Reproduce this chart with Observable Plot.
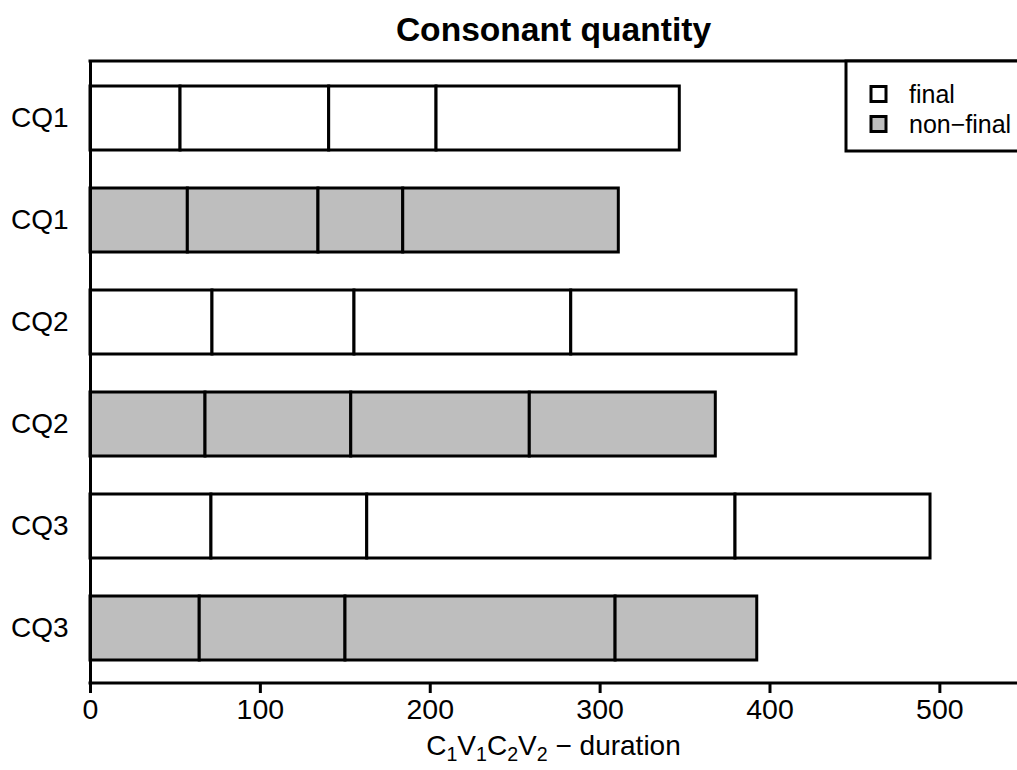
<!DOCTYPE html>
<html>
<head>
<meta charset="utf-8">
<script src="https://cdn.jsdelivr.net/npm/d3@7"></script>
<script src="https://cdn.jsdelivr.net/npm/@observablehq/plot@0.6"></script>
<style>
  html, body { margin: 0; padding: 0; background: #fff; overflow: hidden; }
  svg { display: block; }
</style>
</head>
<body>
<div id="chart"></div>
<script>
// ---- data ----
const rowLabels = ["CQ1", "CQ1", "CQ2", "CQ2", "CQ3", "CQ3"];
const position  = ["final", "non-final", "final", "non-final", "final", "non-final"];
const segments  = ["C1", "V1", "C2", "V2"];
const C1 = [53.0, 57.3, 71.8, 67.7, 71.2, 64.3];
const V1 = [87.5, 76.9, 83.6, 85.8, 91.7, 85.8];
const C2 = [63.2, 49.9, 127.6, 105.1, 216.8, 159.0];
const V2 = [143.2, 126.9, 132.6, 109.5, 114.8, 83.4];
const xTicks = [0, 100, 200, 300, 400, 500];
const legendKeys = ["final", "non-final"];
const legendLabels = ["final", "non\u2212final"];
const titleText = "Consonant quantity";
const xLabelParts = [["C", false], ["1", true], ["V", false], ["1", true], ["C", false], ["2", true], ["V", false], ["2", true], [" \u2212 duration", false]];
const fills = {"final": "#ffffff", "non-final": "#bebebe"};

// ---- layout ----
const FONT = "'Liberation Sans', Arial, Helvetica, sans-serif";
const W = 1017, H = 770;
const mL = 90, mR = 0, mT = 61, mB = 87;
const SW = 3;

const series = [C1, V1, C2, V2];
const rows = [];
rowLabels.forEach((lab, i) => {
  series.forEach((arr, j) => rows.push({row: i, pos: position[i], seg: segments[j], value: arr[i]}));
});

const plot = Plot.plot({
  width: W, height: H,
  marginLeft: mL, marginRight: mR, marginTop: mT, marginBottom: mB,
  style: {fontFamily: FONT, fontSize: "28px", background: "#fff", color: "#000"},
  x: {domain: [0, 545.7], label: null},
  y: {type: "band", domain: d3.range(rowLabels.length), range: [86, 660.5], paddingInner: 0.368, paddingOuter: 0, align: 0.5, label: null},
  color: {type: "identity"},
  marks: [
    Plot.barX(rows, Plot.stackX({x: "value", y: "row", fill: d => fills[d.pos], stroke: "#000", strokeWidth: SW})),
    Plot.ruleX([0], {stroke: "#000", strokeWidth: SW}),
    Plot.axisX({ticks: xTicks, tickSize: 10, tickPadding: 5, strokeWidth: SW, fontSize: 28.5, label: null}),
    Plot.axisY({tickSize: 0, tickPadding: 22, tickFormat: i => rowLabels[i], fontSize: 28, label: null})
  ]
});

document.getElementById("chart").appendChild(plot);
const svg = d3.select(plot);
const xr = plot.scale("x").range;
const yTop = mT, yBot = H - mB;

// frame lines (top and bottom axis line)
svg.append("line").attr("x1", xr[0] - SW / 2).attr("x2", xr[1] + 5).attr("y1", yTop).attr("y2", yTop)
  .attr("stroke", "#000").attr("stroke-width", SW);
svg.append("line").attr("x1", xr[0] - SW / 2).attr("x2", xr[1] + 5).attr("y1", yBot).attr("y2", yBot)
  .attr("stroke", "#000").attr("stroke-width", SW);

// title
svg.append("text").attr("x", (xr[0] + xr[1]) / 2).attr("y", 41)
  .attr("text-anchor", "middle").style("font-family", FONT).style("font-size", "33.6px").style("font-weight", "bold")
  .text(titleText);

// x label with subscripts
const xl = svg.append("text").attr("x", (xr[0] + xr[1]) / 2).attr("y", 755)
  .attr("text-anchor", "middle").style("font-family", FONT).style("font-size", "28px")
  .attr("xml:space", "preserve").style("white-space", "pre");
let down = false;
xLabelParts.forEach(([t, sub]) => {
  const ts = xl.append("tspan").text(t);
  if (sub && !down) { ts.attr("dy", 6); down = true; }
  else if (!sub && down) { ts.attr("dy", -6); down = false; }
  if (sub) ts.style("font-size", "19.6px");
});

// legend
const lg = svg.append("g").attr("text-anchor", "start");
lg.append("rect").attr("x", 846).attr("y", yTop).attr("width", 200).attr("height", 90)
  .attr("fill", "#fff").attr("stroke", "#000").attr("stroke-width", SW);
legendKeys.forEach((k, i) => {
  const cy = 94 + i * 30;
  lg.append("rect").attr("x", 871).attr("y", cy - 7.5).attr("width", 15).attr("height", 15)
    .attr("fill", fills[k]).attr("stroke", "#000").attr("stroke-width", SW);
  lg.append("text").attr("x", 909).attr("y", cy).attr("dy", "0.36em").attr("text-anchor", "start")
    .style("font-family", FONT).style("font-size", "25px").text(legendLabels[i]);
});
</script>
</body>
</html>
